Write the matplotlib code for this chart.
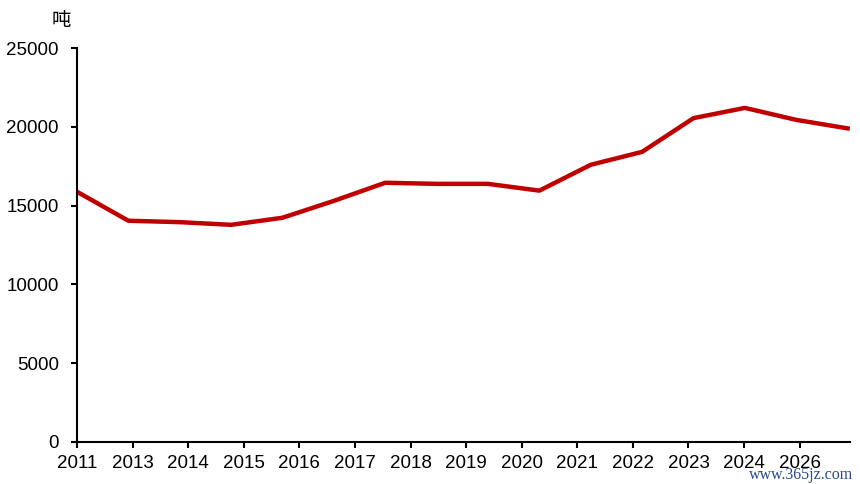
import matplotlib
matplotlib.use('Agg')
import matplotlib.pyplot as plt
import numpy as np

plt.rcParams['font.family'] = ['Liberation Sans', 'Noto Sans CJK SC', 'DejaVu Sans']

# ===== 数据 =====
values = [15880, 14040, 13950, 13780, 14230, 15300, 16450, 16380,
          16380, 15950, 17590, 18410, 20550, 21200, 20440, 19900]
tick_labels = ['2011', '2013', '2014', '2015', '2016', '2017', '2018',
               '2019', '2020', '2021', '2022', '2023', '2024', '2026']
unit = '吨'

fig = plt.figure(figsize=(8.6, 4.84), dpi=100)
ax = fig.add_axes([0.0895, 0.0868, 0.8985, 0.814])

x = np.arange(len(values))
ax.plot(x, values, color='#C00000', linewidth=3.2, solid_joinstyle='round')

# ===== 坐标轴 =====
ax.set_xlim(0, 15.04)
ax.set_ylim(0, 25000)
ax.set_yticks(np.arange(0, 25001, 5000))
ax.set_xticks(np.arange(len(tick_labels)) * 1.082)
ax.set_xticklabels(tick_labels)

for side in ['top', 'right']:
    ax.spines[side].set_visible(False)
for side in ['left', 'bottom']:
    ax.spines[side].set_linewidth(1.5)
    ax.spines[side].set_color('black')

ax.tick_params(axis='y', direction='out', length=4, width=1.5,
               labelsize=13.5, pad=9)
ax.tick_params(axis='x', direction='out', length=4.5, width=1.5,
               labelsize=13.5, pad=5)

fig.text(0.071, 0.958, unit, fontsize=14, ha='center', va='center',
         family=['Noto Sans CJK SC', 'DejaVu Sans'])

# 水印（放在刻度标签下方，避免重叠）
fig.text(0.992, 0.002, 'www.365jz.com', fontsize=11.5, ha='right', va='bottom',
         family=['Liberation Serif', 'DejaVu Serif'], color='#2a4a8a')

fig.savefig('out.png', dpi=100)
plt.close(fig)
